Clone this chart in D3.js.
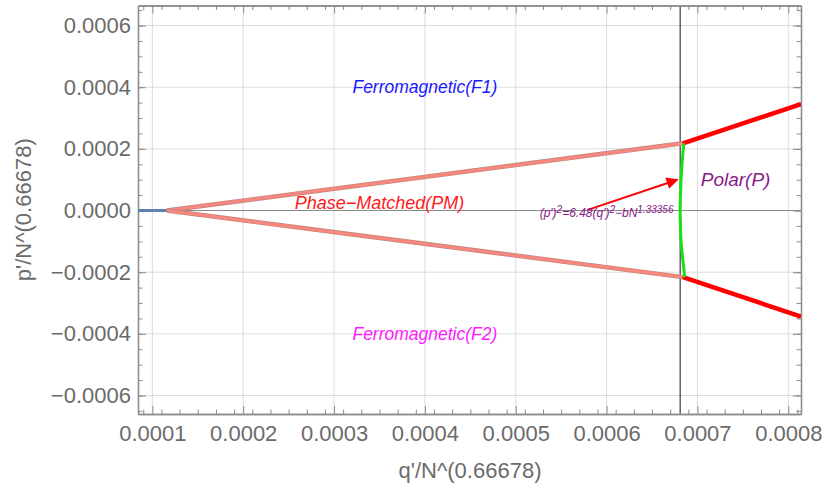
<!DOCTYPE html>
<html>
<head>
<meta charset="utf-8">
<script src="https://cdn.jsdelivr.net/npm/d3@7"></script>
<style>
  body { margin: 0; background: #fff; }
  svg { display: block; font-family: "Liberation Sans", Arial, sans-serif; }
</style>
</head>
<body>
<svg id="chart" width="825" height="492"></svg>
<script>
// tick values
const xTicks = [0.0001, 0.0002, 0.0003, 0.0004, 0.0005, 0.0006, 0.0007, 0.0008];
const yTicks = [-0.0006, -0.0004, -0.0002, 0, 0.0002, 0.0004, 0.0006];

// flat segment on the axis (left of the triple point)
const flatQ = [0.0000842, 0.000116];
const flatP = [0, 0];

// phase-matched boundaries
const pmQ = [0.000116, 0.000684];
const pmUpper = [0, 0.000218];
const pmLower = [0, -0.000216];

// polar boundaries
const polarQ = [0.000684, 0.000814];
const polarUpper = [0.000218, 0.000345];
const polarLower = [-0.000216, -0.000344];

// green hyperbola-like branch
const greenP = [0.000218, 0.00015, 0.0001, 0.00005, 0, -0.00005, -0.0001, -0.00015, -0.000216];
const greenQ = [0.000685, 0.000683, 0.000682, 0.0006814, 0.000681, 0.0006814, 0.000682, 0.0006836, 0.000686];

// critical q (vertical line)
const qCritical = 0.000681;

// arrow pointing at the green branch
const arrowQ = [0.00058, 0.000678];
const arrowP = [0.000003, 0.0001];

const plot = { left: 138, right: 801, top: 5.5, bottom: 414 };

const x = d3.scaleLinear().domain([0.0000842, 0.000814]).range([plot.left, plot.right]);
const y = d3.scaleLinear().domain([-0.00066, 0.000665]).range([plot.bottom, plot.top]);

const svg = d3.select('#chart');

const defs = svg.append('defs');
defs.append('clipPath').attr('id', 'clip')
    .append('rect')
    .attr('x', plot.left).attr('y', plot.top)
    .attr('width', plot.right - plot.left).attr('height', plot.bottom - plot.top);
defs.append('marker')
    .attr('id', 'arrowhead')
    .attr('viewBox', '0 0 10 10')
    .attr('refX', 9).attr('refY', 5)
    .attr('markerWidth', 8).attr('markerHeight', 6)
    .attr('markerUnits', 'strokeWidth')
    .attr('orient', 'auto')
    .append('path')
    .attr('d', 'M0,0 L10,5 L0,10 Z')
    .attr('fill', '#ff0000');

// grid lines
const grid = svg.append('g');
grid.selectAll('.gx').data(xTicks).join('line')
    .attr('x1', (d) => x(d)).attr('x2', (d) => x(d))
    .attr('y1', plot.top).attr('y2', plot.bottom)
    .attr('stroke', '#dcdcdc').attr('stroke-width', 1);
grid.selectAll('.gy').data(yTicks.filter((d) => d !== 0)).join('line')
    .attr('x1', plot.left).attr('x2', plot.right)
    .attr('y1', (d) => y(d)).attr('y2', (d) => y(d))
    .attr('stroke', '#dcdcdc').attr('stroke-width', 1);

// axis line at p = 0 and the vertical line at the critical q
svg.append('line')
    .attr('x1', plot.left).attr('x2', plot.right)
    .attr('y1', y(0)).attr('y2', y(0))
    .attr('stroke', '#8a8a8a').attr('stroke-width', 1.2);
svg.append('line')
    .attr('x1', x(qCritical)).attr('x2', x(qCritical))
    .attr('y1', plot.top).attr('y2', plot.bottom)
    .attr('stroke', '#3a3a3a').attr('stroke-width', 1.2);

// frame axes with inward ticks (Mathematica style)
const fmt = d3.format('.4f');
const minorX = d3.range(0.00009, 0.000814, 0.00002).map((v) => +v.toFixed(6));
const minorY = d3.range(-0.00065, 0.000665, 0.00005).map((v) => +v.toFixed(6));

function styleAxis(g) {
    g.select('.domain').attr('stroke', '#8c8c8c').attr('stroke-width', 1.3);
    g.selectAll('.tick line').attr('stroke', '#8c8c8c');
    g.selectAll('.tick text')
        .attr('fill', '#6b6b6b')
        .attr('font-size', '22px')
        .attr('font-family', '"Liberation Sans", Arial, sans-serif');
}

svg.append('g')
    .attr('transform', `translate(0,${plot.bottom})`)
    .call(d3.axisBottom(x).tickValues(xTicks).tickFormat(fmt).tickSizeInner(-8).tickSizeOuter(0).tickPadding(11))
    .call(styleAxis);
svg.append('g')
    .attr('transform', `translate(0,${plot.bottom})`)
    .call(d3.axisBottom(x).tickValues(minorX).tickFormat('').tickSizeInner(-4.5).tickSizeOuter(0))
    .call(styleAxis);

svg.append('g')
    .attr('transform', `translate(${plot.left},0)`)
    .call(d3.axisLeft(y).tickValues(yTicks).tickFormat((d) => fmt(d).replace('-', '\u2212')).tickSizeInner(-8).tickSizeOuter(0).tickPadding(7))
    .call(styleAxis);
svg.append('g')
    .attr('transform', `translate(${plot.left},0)`)
    .call(d3.axisLeft(y).tickValues(minorY).tickFormat('').tickSizeInner(-4.5).tickSizeOuter(0))
    .call(styleAxis);

svg.append('g')
    .attr('transform', `translate(0,${plot.top})`)
    .call(d3.axisTop(x).tickValues(xTicks).tickFormat('').tickSizeInner(-8).tickSizeOuter(0))
    .call(styleAxis);
svg.append('g')
    .attr('transform', `translate(0,${plot.top})`)
    .call(d3.axisTop(x).tickValues(minorX).tickFormat('').tickSizeInner(-4.5).tickSizeOuter(0))
    .call(styleAxis);
svg.append('g')
    .attr('transform', `translate(${plot.right},0)`)
    .call(d3.axisRight(y).tickValues(yTicks).tickFormat('').tickSizeInner(-8).tickSizeOuter(0))
    .call(styleAxis);
svg.append('g')
    .attr('transform', `translate(${plot.right},0)`)
    .call(d3.axisRight(y).tickValues(minorY).tickFormat('').tickSizeInner(-4.5).tickSizeOuter(0))
    .call(styleAxis);

// axis titles
svg.append('text')
    .attr('x', 470).attr('y', 478)
    .attr('text-anchor', 'middle')
    .attr('fill', '#6b6b6b').attr('font-size', '22px')
    .text("q'/N^(0.66678)");
svg.append('text')
    .attr('transform', `translate(31,${(plot.top + plot.bottom) / 2}) rotate(-90)`)
    .attr('text-anchor', 'middle')
    .attr('fill', '#6b6b6b').attr('font-size', '22px')
    .text("p'/N^(0.66678)");

// curves
const curves = svg.append('g').attr('clip-path', 'url(#clip)');
const line = d3.line().x((d) => x(d[0])).y((d) => y(d[1]));
const smooth = d3.line().x((d) => x(d[0])).y((d) => y(d[1])).curve(d3.curveCatmullRom);
const zip = (qs, ps) => qs.map((q, i) => [q, ps[i]]);

curves.append('path')
    .attr('d', line(zip(flatQ, flatP)))
    .attr('fill', 'none').attr('stroke', '#5e81b5').attr('stroke-width', 3.2);

[pmUpper, pmLower].forEach((ps) => {
    curves.append('path')
        .attr('d', line(zip(pmQ, ps)))
        .attr('fill', 'none').attr('stroke', '#b8877a').attr('stroke-width', 4.5);
    curves.append('path')
        .attr('d', line(zip(pmQ, ps)))
        .attr('fill', 'none').attr('stroke', '#f7877f').attr('stroke-width', 3.2);
});

[polarUpper, polarLower].forEach((ps) => {
    curves.append('path')
        .attr('d', line(zip(polarQ, ps)))
        .attr('fill', 'none').attr('stroke', '#ff0000').attr('stroke-width', 4.5);
});

curves.append('path')
    .attr('d', smooth(zip(greenQ, greenP)))
    .attr('fill', 'none').attr('stroke', '#16e016').attr('stroke-width', 3);

// arrow
svg.append('line')
    .attr('x1', x(arrowQ[0])).attr('y1', y(arrowP[0]))
    .attr('x2', x(arrowQ[1])).attr('y2', y(arrowP[1]))
    .attr('stroke', '#ff0000').attr('stroke-width', 2)
    .attr('marker-end', 'url(#arrowhead)');

// region labels
const labels = [
    { text: 'Ferromagnetic(F1)', q: 0.0004, p: 0.0004, color: '#1a1aff', size: 17.5 },
    { text: 'Phase\u2212Matched(PM)', q: 0.00035, p: 0.000024, color: '#ff1a1a', size: 18 },
    { text: 'Ferromagnetic(F2)', q: 0.0004, p: -0.0004, color: '#ff1aff', size: 17.5 },
    { text: 'Polar(P)', q: 0.000742, p: 0.0001, color: '#8a1a8a', size: 19 },
];
svg.selectAll('.region').data(labels).join('text')
    .attr('x', (d) => x(d.q)).attr('y', (d) => y(d.p))
    .attr('dy', '0.35em')
    .attr('text-anchor', 'middle')
    .attr('font-style', 'italic')
    .attr('font-size', (d) => `${d.size}px`)
    .attr('fill', (d) => d.color)
    .text((d) => d.text);

// formula annotation
const formula = svg.append('text')
    .attr('x', x(0.0006)).attr('y', y(-0.000022))
    .attr('text-anchor', 'middle')
    .attr('font-style', 'italic')
    .attr('font-size', '12px')
    .attr('fill', '#8a1a8a');
const parts = [
    ['(p\u2032)', false], ['2', true], ['=6.48(q\u2032)', false], ['2', true],
    ['\u2212bN', false], ['1.33356', true],
];
parts.forEach(([t, sup]) => {
    formula.append('tspan')
        .attr('font-size', sup ? '10px' : '12px')
        .attr('baseline-shift', sup ? '45%' : '0')
        .text(t);
});
</script>
</body>
</html>
